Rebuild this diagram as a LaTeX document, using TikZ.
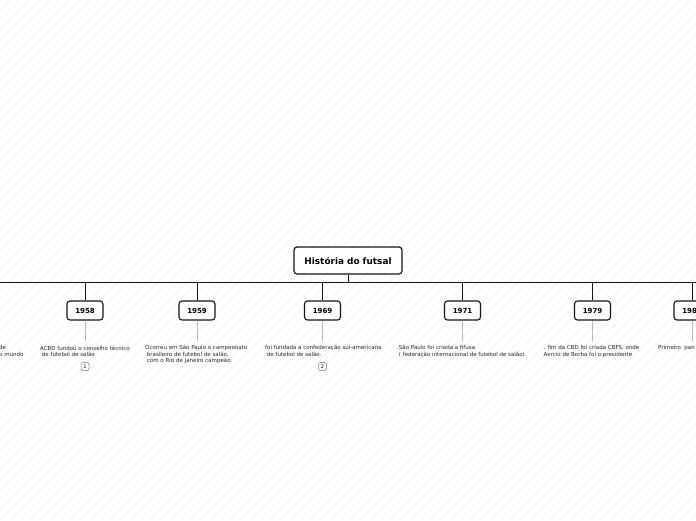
\documentclass[tikz,border=0pt]{standalone}
\usepackage{fontspec}
\setmainfont{DejaVu Sans}
\usetikzlibrary{positioning}
\definecolor{mapLine}{RGB}{20,20,20}
\definecolor{mapStem}{RGB}{185,185,185}
\definecolor{mapHatch}{RGB}{240,240,240}
\definecolor{mapText}{RGB}{40,40,40}

\begin{document}
\begin{tikzpicture}[x=1pt, y=-1pt,
  root/.style={rounded corners=3pt, draw=mapLine, line width=1.2pt, fill=white, font=\bfseries\fontsize{8.9}{10}\selectfont, minimum width=108pt, minimum height=27pt, inner sep=0pt},
  year/.style={rounded corners=3pt, draw=mapLine, line width=1.1pt, fill=white, font=\bfseries\fontsize{7}{8}\selectfont, minimum width=36pt, minimum height=19pt, inner sep=0pt},
  note/.style={anchor=north west, align=left, inner xsep=0pt, inner ysep=4.5pt, font=\fontsize{5.5}{6.3}\selectfont, text=mapText},
  tag/.style={rounded corners=2pt, draw=black!55, line width=0.5pt, fill=white, minimum size=8pt, inner sep=0pt, font=\fontsize{5}{6}\selectfont},
  trunk/.style={draw=mapLine, line width=1.7pt},
  branch/.style={draw=mapLine, line width=0.9pt, rounded corners=2pt},
  stem/.style={draw=mapStem, line width=0.8pt},
  hatch/.style={draw=mapHatch, line width=0.5pt}
]
\useasboundingbox (0,0) rectangle (696,520);
\clip (0,0) rectangle (696,520);
\fill[white] (0,0) rectangle (696,520);

% background hatching
\foreach \i in {-520,-510,...,700}
  \draw[hatch] (\i,520) -- (\i+520,0);

% root and trunk
\node[root] (root) at (348,260.5) {História do futsal};
\coordinate (trunkL) at (-10,282.5);
\coordinate (trunkR) at (706,282.5);
\draw[trunk] (trunkL) -- (trunkR);
\draw[branch] (root.south) -- (root.south |- trunkL);

% years
\node[year] (y1958) at (85,310.5) {1958};
\node[year] (y1959) at (197,310.5) {1959};
\node[year] (y1969) at (322.5,310.5) {1969};
\node[year] (y1971) at (462.5,310.5) {1971};
\node[year] (y1979) at (592.5,310.5) {1979};
\node[year] (y198) at (692,310.5) {198\phantom{0}};

\draw[branch] (y1958.north |- trunkL) -- (y1958.north);
\draw[branch] (y1959.north |- trunkL) -- (y1959.north);
\draw[branch] (y1969.north |- trunkL) -- (y1969.north);
\draw[branch] (y1971.north |- trunkL) -- (y1971.north);
\draw[branch] (y1979.north |- trunkL) -- (y1979.north);
\draw[branch] (y198.north |- trunkL) -- (y198.north);

% notes
\node[note] (nLeft) at (-1,341) {de\\o mundo};
\node[note] (n1958) at (40,341) {ACBD fundou o conselho técnico\\\ de futebol de salão};
\node[note] (n1959) at (145,341) {Ocorreu em São Paulo o campeonato\\\ brasileiro de futebol de salão,\\\ com o Rio de Janeiro campeão.};
\node[note] (n1969) at (265,341) {foi fundada a confederação sul-americana\\\ de futebol de salão.};
\node[note] (n1971) at (397,341) {.São Paulo foi criada a fifusa\\\ ( federação internacional de futebol de salão).};
\node[note] (n1979) at (543.5,341) {. fim da CBD foi criada CBFS, onde\\Aercio de Borba foi o presidente};
\node[note] (n198) at (658,341) {Primeiro\ \ pan};

\draw[stem] (y1958.south) -- (y1958.south |- n1958.north);
\draw[stem] (y1959.south) -- (y1959.south |- n1959.north);
\draw[stem] (y1969.south) -- (y1969.south |- n1969.north);
\draw[stem] (y1971.south) -- (y1971.south |- n1971.north);
\draw[stem] (y1979.south) -- (y1979.south |- n1979.north);
\draw[stem] (y198.south) -- (y198.south |- n198.north);

% tags
\node[tag] (tag1) at (85,366.5) {1};
\node[tag] (tag2) at (322.5,366.5) {2};
\end{tikzpicture}
\end{document}
